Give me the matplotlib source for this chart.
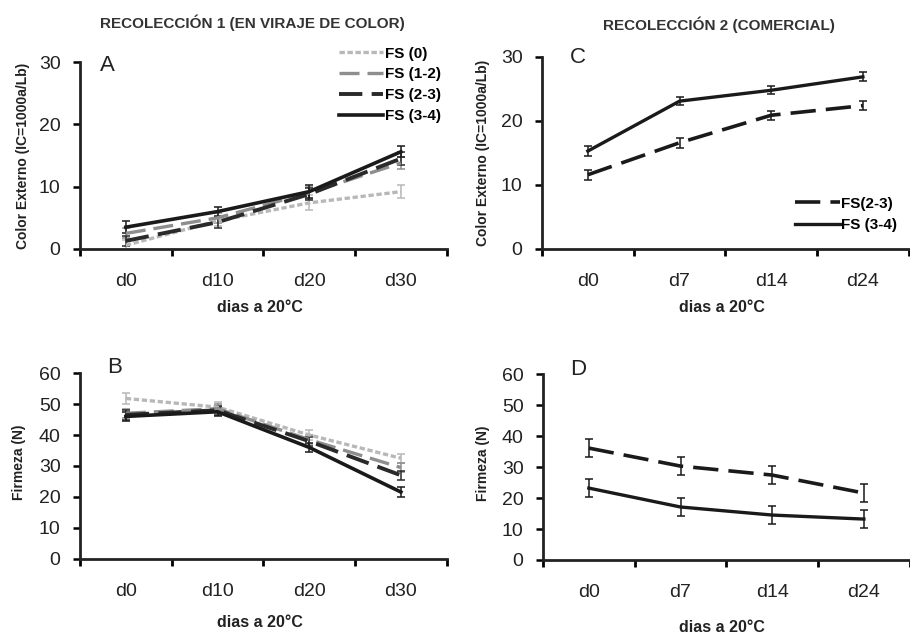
import matplotlib
matplotlib.use("Agg")
import matplotlib.pyplot as plt
import numpy as np

plt.rcParams['font.family'] = ['Liberation Sans Narrow', 'Liberation Sans', 'DejaVu Sans']

# ---- data ----
days_r1 = ["d0", "d10", "d20", "d30"]
days_r2 = ["d0", "d7", "d14", "d24"]

labels_r1 = ["FS (0)", "FS (1-2)", "FS (2-3)", "FS (3-4)"]
labels_r2 = ["FS(2-3)", "FS (3-4)"]

# Panel A: color externo, recolección 1
colorA_fs0 = [0.6, 4.5, 7.4, 9.2]
colorA_fs12 = [2.5, 5.0, 9.0, 13.8]
colorA_fs23 = [1.3, 4.3, 8.8, 14.5]
colorA_fs34 = [3.5, 6.0, 9.2, 15.6]
errA_fs0 = [0.8, 0.8, 1.2, 1.0]
errA_fs12 = [0.8, 0.8, 1.0, 1.0]
errA_fs23 = [0.8, 1.0, 1.0, 1.0]
errA_fs34 = [1.0, 0.8, 1.0, 0.9]

# Panel B: firmeza, recolección 1
firmB_fs0 = [51.8, 49.0, 40.0, 32.5]
firmB_fs12 = [47.0, 48.5, 38.5, 29.5]
firmB_fs23 = [46.5, 48.0, 38.0, 27.0]
firmB_fs34 = [46.0, 47.5, 36.0, 21.6]
errB_fs0 = [1.8, 1.5, 1.5, 1.5]
errB_fs12 = [1.5, 1.5, 1.5, 1.5]
errB_fs23 = [1.5, 1.5, 1.5, 1.5]
errB_fs34 = [1.5, 1.5, 1.5, 1.5]

# Panel C: color externo, recolección 2
colorC_fs23 = [11.6, 16.6, 20.9, 22.4]
colorC_fs34 = [15.3, 23.1, 24.8, 26.9]
errC_fs23 = [0.8, 0.8, 0.7, 0.7]
errC_fs34 = [0.8, 0.6, 0.6, 0.7]

# Panel D: firmeza, recolección 2
firmD_fs23 = [36.1, 30.3, 27.4, 21.6]
firmD_fs34 = [23.2, 17.1, 14.5, 13.2]
errD_fs23 = [2.8, 2.8, 2.8, 2.8]
errD_fs34 = [2.8, 2.8, 2.8, 2.8]

# ---- styles ----
sty_r1 = [
    dict(color="#b8b8b8", dashes=(1.6, 0.8), lw=2.4),
    dict(color="#8e8e8e", dashes=(6.0, 2.4), lw=2.4),
    dict(color="#2a2a2a", dashes=(6.0, 2.4), lw=2.8),
    dict(color="#1a1a1a", dashes=None, lw=2.6),
]
sty_r2 = [
    dict(color="#1a1a1a", dashes=(7.0, 2.8), lw=2.6),
    dict(color="#1a1a1a", dashes=None, lw=2.4),
]

fig = plt.figure(figsize=(9.1, 6.36), dpi=100)

axA = fig.add_axes([0.0879, 0.6085, 0.4030, 0.2940])
axC = fig.add_axes([0.5956, 0.6085, 0.4030, 0.3019])
axB = fig.add_axes([0.0879, 0.1211, 0.4030, 0.2924])
axD = fig.add_axes([0.5967, 0.1195, 0.4030, 0.2924])


def draw(ax, cats, series, errs, styles, labels):
    x = np.arange(len(cats))
    handles = []
    for vals, err, st, lab in zip(series, errs, styles, labels):
        eb = ax.errorbar(x, vals, yerr=err, color=st["color"], lw=st["lw"],
                         elinewidth=1.1, capsize=2.8, capthick=1.1, label=lab)
        if st["dashes"] is not None:
            eb.lines[0].set_dashes(st["dashes"])
        handles.append(eb.lines[0])
    ax.set_xlim(-0.5, len(cats) - 0.5)
    ax.set_xticks(x)
    ax.set_xticklabels(cats)
    ax.set_xticks(np.arange(len(cats) + 1) - 0.5, minor=True)
    ax.tick_params(axis="x", which="major", length=0, pad=17, labelsize=14,
                   labelcolor="#222222")
    ax.tick_params(axis="x", which="minor", length=5, width=2, direction="out")
    ax.tick_params(axis="y", which="major", length=5, width=1.8, direction="out",
                   labelsize=14, pad=9, labelcolor="#222222")
    for s in ["top", "right"]:
        ax.spines[s].set_visible(False)
    for s in ["left", "bottom"]:
        ax.spines[s].set_linewidth(2)
        ax.spines[s].set_color("#222222")
    ax.set_xlabel("dias a 20°C", fontsize=11.5, fontweight="bold", color="#222222")
    return handles


hA = draw(axA, days_r1, [colorA_fs0, colorA_fs12, colorA_fs23, colorA_fs34],
          [errA_fs0, errA_fs12, errA_fs23, errA_fs34], sty_r1, labels_r1)
axA.set_ylim(0, 30)
axA.set_yticks([0, 10, 20, 30])
axA.set_ylabel("Color Externo (IC=1000a/Lb)", fontsize=10, fontweight="bold", color="#222222")
axA.yaxis.set_label_coords(-0.136, 0.5)
axA.xaxis.set_label_coords(0.49, -0.273)
axA.text(0.055, 1.04, "A", transform=axA.transAxes, fontsize=16, va="top", ha="left",
         color="#222222")
axA.legend(handles=hA, labels=labels_r1, loc="upper right", bbox_to_anchor=(1.0, 1.115),
           borderaxespad=0, frameon=False, handlelength=2.9, handletextpad=0.1,
           labelspacing=0.45, prop=dict(weight="bold", size=11))
fig.text(0.277, 0.965, "RECOLECCIÓN 1 (EN VIRAJE DE COLOR)", fontsize=11,
         fontweight="bold", ha="center", va="center", color="#333333")

hB = draw(axB, days_r1, [firmB_fs0, firmB_fs12, firmB_fs23, firmB_fs34],
          [errB_fs0, errB_fs12, errB_fs23, errB_fs34], sty_r1, labels_r1)
axB.set_ylim(0, 60)
axB.set_yticks(range(0, 61, 10))
axB.set_ylabel("Firmeza (N)", fontsize=10, fontweight="bold", color="#222222")
axB.yaxis.set_label_coords(-0.147, 0.52)
axB.xaxis.set_label_coords(0.49, -0.30)
axB.text(0.074, 1.086, "B", transform=axB.transAxes, fontsize=16, va="top", ha="left",
         color="#222222")

hC = draw(axC, days_r2, [colorC_fs23, colorC_fs34], [errC_fs23, errC_fs34],
          sty_r2, labels_r2)
axC.set_ylim(0, 30)
axC.set_yticks([0, 10, 20, 30])
axC.set_ylabel("Color Externo (IC=1000a/Lb)", fontsize=10, fontweight="bold", color="#222222")
axC.yaxis.set_label_coords(-0.141, 0.5)
axC.xaxis.set_label_coords(0.49, -0.266)
axC.text(0.076, 1.05, "C", transform=axC.transAxes, fontsize=16, va="top", ha="left",
         color="#222222")
axC.legend(handles=hC, labels=labels_r2, loc="lower right", bbox_to_anchor=(0.985, 0.055),
           borderaxespad=0, frameon=False, handlelength=2.9, handletextpad=0.1,
           labelspacing=0.5, prop=dict(weight="bold", size=11))
fig.text(0.79, 0.961, "RECOLECCIÓN 2 (COMERCIAL)", fontsize=11,
         fontweight="bold", ha="center", va="center", color="#333333")

hD = draw(axD, days_r2, [firmD_fs23, firmD_fs34], [errD_fs23, errD_fs34],
          sty_r2, labels_r2)
axD.set_ylim(0, 60)
axD.set_yticks(range(0, 61, 10))
axD.set_ylabel("Firmeza (N)", fontsize=10, fontweight="bold", color="#222222")
axD.yaxis.set_label_coords(-0.144, 0.52)
axD.xaxis.set_label_coords(0.488, -0.32)
axD.text(0.074, 1.08, "D", transform=axD.transAxes, fontsize=16, va="top", ha="left",
         color="#222222")

fig.savefig("out.png", dpi=100)
